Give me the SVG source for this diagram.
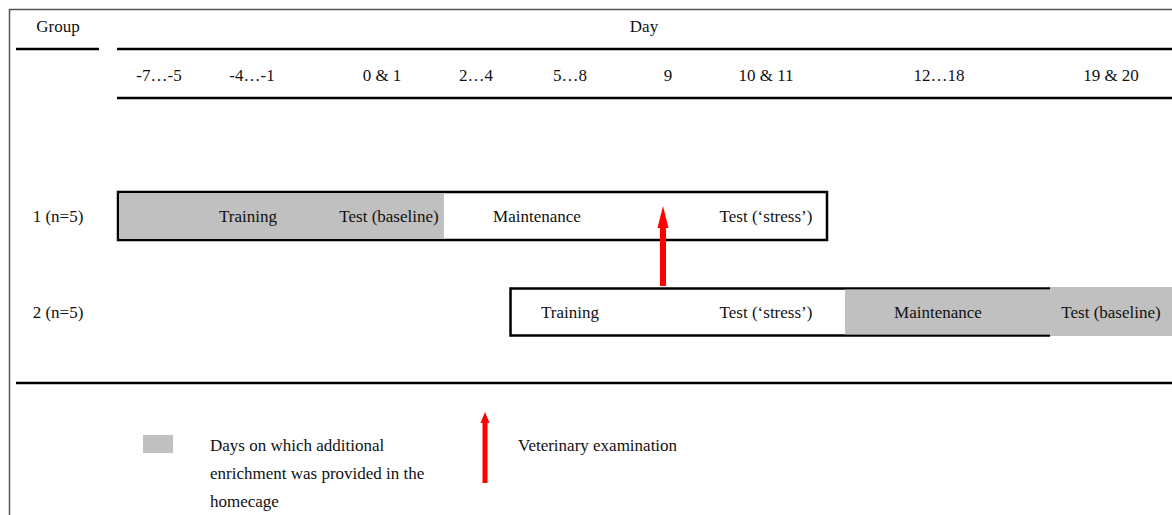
<svg xmlns="http://www.w3.org/2000/svg" width="1172" height="515" viewBox="0 0 1172 515">
<style>
text{font-family:"Liberation Serif","Times New Roman",serif;font-size:17px;fill:#111}
.c{text-anchor:middle}
.rule{stroke:#000;stroke-width:2.5;fill:none}
.bar{stroke:#000;stroke-width:2.5}
.grey{fill:#c0c0c0}
.arrow{fill:#ff0000}
</style>
<rect x="0" y="0" width="1172" height="515" fill="#fff"/>
<g id="frame">
<line x1="9" y1="9.5" x2="1172" y2="9.5" stroke="#555" stroke-width="1.5"/>
<line x1="9.5" y1="9" x2="9.5" y2="515" stroke="#555" stroke-width="1.5"/>
</g>
<g id="header">
<text class="c" x="58" y="32">Group</text>
<text class="c" x="644" y="32">Day</text>
<line class="rule" x1="16" y1="49" x2="99" y2="49"/>
<line class="rule" x1="117" y1="49" x2="1172" y2="49"/>
<text class="c" x="159" y="81">-7…-5</text>
<text class="c" x="252" y="81">-4…-1</text>
<text class="c" x="382" y="81">0 &amp; 1</text>
<text class="c" x="476" y="81">2…4</text>
<text class="c" x="570" y="81">5…8</text>
<text class="c" x="668" y="81">9</text>
<text class="c" x="766" y="81">10 &amp; 11</text>
<text class="c" x="939" y="81">12…18</text>
<text class="c" x="1111" y="81">19 &amp; 20</text>
<line class="rule" x1="117" y1="98" x2="1172" y2="98"/>
</g>
<g id="group1">
<text class="c" x="58" y="222">1 (n=5)</text>
<rect class="bar" x="118" y="192" width="709" height="48" fill="#fff"/>
<rect class="grey" x="119.5" y="193.5" width="324.5" height="45"/>
<text class="c" x="248" y="222">Training</text>
<text class="c" x="389" y="222">Test (baseline)</text>
<text class="c" x="537" y="222">Maintenance</text>
<text class="c" x="766" y="222">Test (‘stress’)</text>
</g>
<g id="group2">
<text class="c" x="58" y="318">2 (n=5)</text>
<path class="bar" d="M1050 288.5 H510.5 V335.5 H1050" fill="#fff"/>
<rect class="grey" x="845" y="289.5" width="205" height="45"/>
<rect class="grey" x="1050" y="287" width="122" height="49"/>
<text class="c" x="570" y="318">Training</text>
<text class="c" x="766" y="318">Test (‘stress’)</text>
<text class="c" x="938" y="318">Maintenance</text>
<text class="c" x="1111" y="318">Test (baseline)</text>
</g>
<g id="connectors">
<path class="arrow" d="M660 286 V228 H657.5 L663 206 L668.5 228 H666 V286 Z"/>
</g>
<g id="legend">
<line class="rule" x1="16" y1="383" x2="1172" y2="383"/>
<rect class="grey" x="143" y="435" width="30" height="18"/>
<text x="210" y="451">Days on which additional</text>
<text x="210" y="479">enrichment was provided in the</text>
<text x="210" y="507">homecage</text>
<path class="arrow" d="M482.5 483 V423 H480.5 L485 412 L489.5 423 H487.5 V483 Z"/>
<text x="518" y="451">Veterinary examination</text>
</g>
</svg>
